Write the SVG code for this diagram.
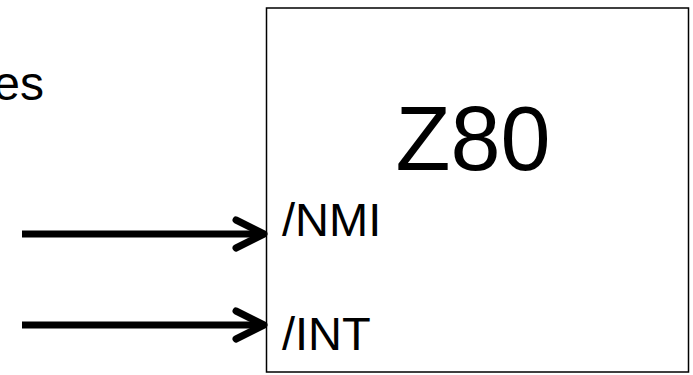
<svg xmlns="http://www.w3.org/2000/svg" width="693" height="375" viewBox="0 0 693 375">
  <style>
    text { font-family: "Liberation Sans", Arial, sans-serif; fill: #000; }
    .wire { stroke: #000; stroke-width: 7; fill: none; }
    .head { stroke: #000; stroke-width: 7; fill: none; stroke-linecap: round; stroke-linejoin: round; }
  </style>
  <rect width="693" height="375" fill="#fff"/>
  <text x="44" y="100" font-size="48" text-anchor="end">es</text>
  <g id="z80">
    <rect x="266.5" y="8" width="422" height="364" fill="#fff" stroke="#000" stroke-width="1.5"/>
    <text x="473" y="170" font-size="90" text-anchor="middle">Z80</text>
    <text x="282" y="236" font-size="47">/NMI</text>
    <text x="282" y="350" font-size="47">/INT</text>
  </g>
  <g id="connectors">
    <line class="wire" x1="22" y1="234" x2="262" y2="234"/>
    <polyline class="head" points="236,220 264,234 236,248"/>
    <line class="wire" x1="22" y1="325" x2="262" y2="325"/>
    <polyline class="head" points="236,311 264,325 236,339"/>
  </g>
</svg>
